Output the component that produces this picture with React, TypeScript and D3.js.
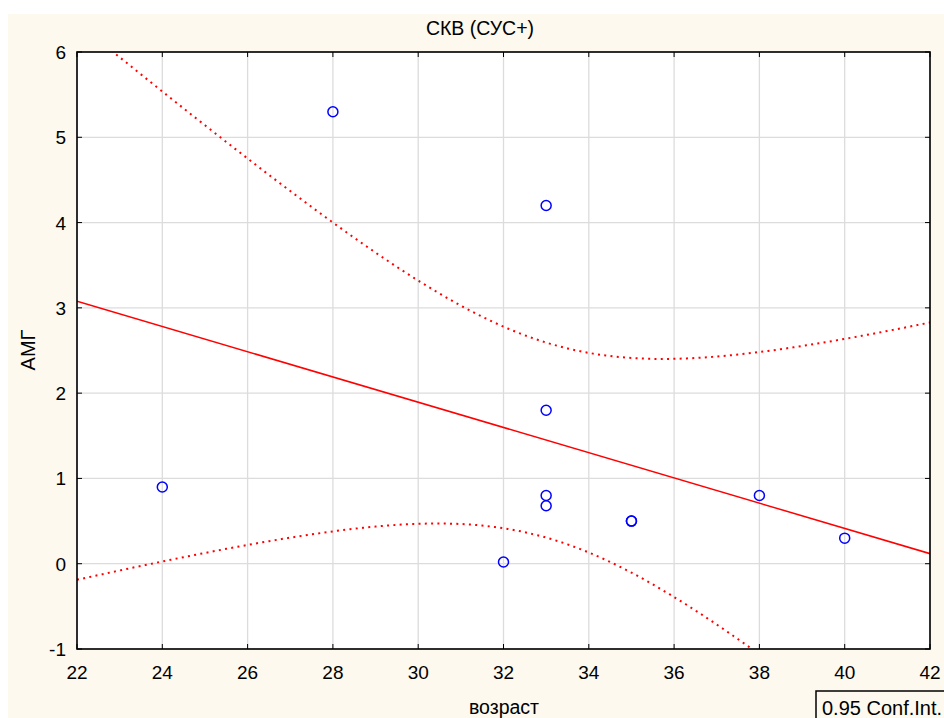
import React from "react";
import * as d3 from "d3";

const xValues = [24, 28, 32, 33, 33, 33, 33, 35, 35, 38, 40];
const yValues = [0.9, 5.3, 0.02, 4.2, 1.8, 0.8, 0.68, 0.5, 0.5, 0.8, 0.3];
const xTicks = [22, 24, 26, 28, 30, 32, 34, 36, 38, 40, 42];
const yTicks = [-1, 0, 1, 2, 3, 4, 5, 6];
const T_CRIT = 2.262; // t(0.975, df=9)
const title = "СКВ (СУС+)";
const xLabel = "возраст";
const yLabel = "АМГ";
const legendLabel = "0.95 Conf.Int.";

export default function App() {
  const W = 944, H = 718;
  const left = 77, right = 930, top = 52, bottom = 649;
  const x = d3.scaleLinear().domain([22, 42]).range([left, right]);
  const y = d3.scaleLinear().domain([-1, 6]).range([bottom, top]);

  const n = xValues.length;
  const mx = d3.mean(xValues) as number;
  const my = d3.mean(yValues) as number;
  let sxx = 0, sxy = 0, syy = 0;
  for (let i = 0; i < n; i++) {
    const dx = xValues[i] - mx, dy = yValues[i] - my;
    sxx += dx * dx; sxy += dx * dy; syy += dy * dy;
  }
  const b = sxy / sxx;
  const a = my - b * mx;
  const s = Math.sqrt((syy - b * sxy) / (n - 2));
  const fit = (v: number) => a + b * v;
  const hw = (v: number) => T_CRIT * s * Math.sqrt(1 / n + ((v - mx) ** 2) / sxx);
  const grid = d3.range(22, 42.001, 0.1);
  const line = d3.line<number[]>().x(d => x(d[0])).y(d => y(d[1]));
  const upper = line(grid.map(v => [v, fit(v) + hw(v)]));
  const lower = line(grid.map(v => [v, fit(v) - hw(v)]));
  const reg = line([[22, fit(22)], [42, fit(42)]]);

  const font = "'Liberation Sans', Arial, sans-serif";
  return (
    <svg width={W} height={H} style={{ position: "absolute", left: 0, top: 0 }} fontFamily={font}>
      <rect x={8} y={14} width={W - 8} height={H - 14} fill="#fdf9ef" />
      <rect x={left} y={top} width={right - left} height={bottom - top} fill="#ffffff" />
      <defs>
        <clipPath id="plotclip">
          <rect x={left} y={top} width={right - left} height={bottom - top} />
        </clipPath>
      </defs>
      {xTicks.map(t => (
        <line key={"gx" + t} x1={x(t)} x2={x(t)} y1={top} y2={bottom} stroke="#dcdcdc" strokeWidth={1.3} />
      ))}
      {yTicks.map(t => (
        <line key={"gy" + t} x1={left} x2={right} y1={y(t)} y2={y(t)} stroke="#dcdcdc" strokeWidth={1.3} />
      ))}
      <g clipPath="url(#plotclip)" fill="none" stroke="#ff0000">
        <path d={reg || ""} strokeWidth={1.5} />
        <path d={upper || ""} strokeWidth={2} strokeDasharray="2,4.3" />
        <path d={lower || ""} strokeWidth={2} strokeDasharray="2,4.3" />
      </g>
      {xValues.map((v, i) => (
        <circle key={"p" + i} cx={x(v)} cy={y(yValues[i])} r={5} fill="none" stroke="#0000ff" strokeWidth={1.5} />
      ))}
      {xTicks.map(t => (
        <g key={"tx" + t}>
          <line x1={x(t)} x2={x(t)} y1={top} y2={top + 5} stroke="#000" strokeWidth={1} />
          <line x1={x(t)} x2={x(t)} y1={bottom} y2={bottom - 5} stroke="#000" strokeWidth={1} />
          <text x={x(t)} y={679} textAnchor="middle" fontSize={19} fill="#000">{t}</text>
        </g>
      ))}
      {yTicks.map(t => (
        <g key={"ty" + t}>
          <line x1={left} x2={left + 5} y1={y(t)} y2={y(t)} stroke="#000" strokeWidth={1} />
          <line x1={right} x2={right - 5} y1={y(t)} y2={y(t)} stroke="#000" strokeWidth={1} />
          <text x={66} y={y(t) + 7} textAnchor="end" fontSize={19} fill="#000">{t}</text>
        </g>
      ))}
      <rect x={left} y={top} width={right - left} height={bottom - top} fill="none" stroke="#000" strokeWidth={1.6} />
      <text x={480} y={35} textAnchor="middle" fontSize={19.5} fill="#000">{title}</text>
      <text x={504} y={714} textAnchor="middle" fontSize={19.5} fill="#000">{xLabel}</text>
      <text transform={`translate(35,350) rotate(-90)`} textAnchor="middle" fontSize={20} fill="#000">{yLabel}</text>
      <rect x={816} y={691} width={140} height={40} fill="#fdf9ef" stroke="#000" strokeWidth={1.5} />
      <text x={822} y={715} fontSize={20} fill="#000">{legendLabel}</text>
    </svg>
  );
}
